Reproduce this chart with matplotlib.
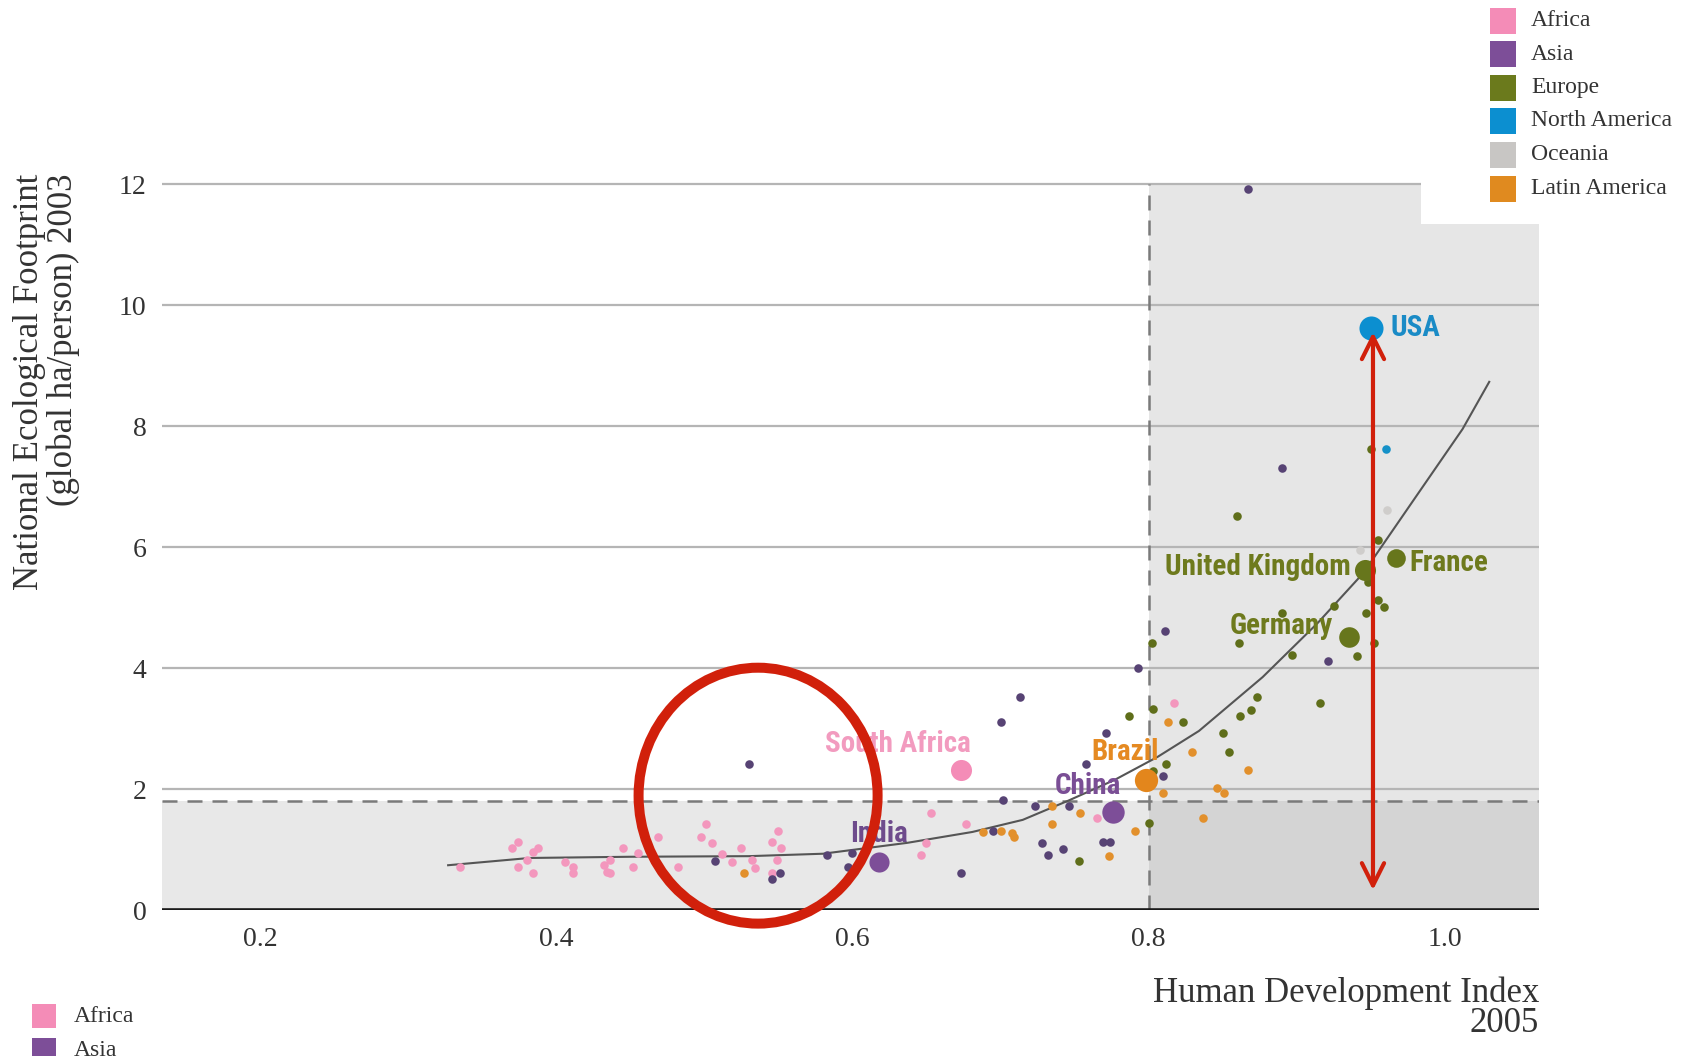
import matplotlib
matplotlib.use("Agg")
import matplotlib.pyplot as plt
from matplotlib.patches import Rectangle, Ellipse
from matplotlib import font_manager

# --- data ---------------------------------------------------------------
regions = ["Africa", "Asia", "Europe", "North America", "Oceania", "Latin America"]

africa_hdi = [0.335, 0.370, 0.374, 0.374, 0.380, 0.384, 0.384, 0.388, 0.406, 0.411,
              0.411, 0.432, 0.434, 0.436, 0.436, 0.445, 0.452, 0.455, 0.469, 0.482,
              0.498, 0.501, 0.505, 0.512, 0.519, 0.525, 0.532, 0.534, 0.550, 0.546,
              0.552, 0.549, 0.546, 0.646, 0.650, 0.653, 0.677, 0.817, 0.765]
africa_fp = [0.71, 1.02, 1.12, 0.71, 0.83, 0.61, 0.96, 1.02, 0.79, 0.71,
             0.61, 0.74, 0.63, 0.61, 0.83, 1.02, 0.71, 0.94, 1.21, 0.71,
             1.21, 1.42, 1.11, 0.93, 0.79, 1.02, 0.83, 0.69, 1.31, 1.12,
             1.02, 0.83, 0.61, 0.91, 1.10, 1.60, 1.42, 3.42, 1.52]

asia_hdi = [0.507, 0.530, 0.551, 0.546, 0.583, 0.597, 0.600, 0.673, 0.702, 0.700,
            0.713, 0.723, 0.728, 0.732, 0.742, 0.695, 0.793, 0.771, 0.810, 0.758,
            0.746, 0.769, 0.774, 0.811, 0.890, 0.921, 0.867]
asia_fp = [0.81, 2.41, 0.61, 0.51, 0.91, 0.71, 0.94, 0.61, 1.82, 3.11,
           3.52, 1.72, 1.11, 0.91, 1.01, 1.31, 4.00, 2.93, 2.21, 2.41,
           1.72, 1.12, 1.12, 4.61, 7.31, 4.12, 11.91]

europe_hdi = [0.802, 0.787, 0.803, 0.823, 0.803, 0.812, 0.800, 0.753, 0.950, 0.860,
              0.955, 0.948, 0.955, 0.959, 0.947, 0.925, 0.890, 0.952, 0.941, 0.897,
              0.861, 0.873, 0.869, 0.862, 0.916, 0.850, 0.854]
europe_fp = [4.41, 3.21, 3.32, 3.11, 2.30, 2.41, 1.44, 0.81, 7.62, 6.51,
             6.12, 5.42, 5.12, 5.01, 4.91, 5.02, 4.91, 4.41, 4.20, 4.21,
             4.41, 3.52, 3.31, 3.21, 3.42, 2.93, 2.61]

namerica_hdi = [0.960]
namerica_fp = [7.62]

oceania_hdi = [0.961, 0.943]
oceania_fp = [6.61, 5.95]

latam_hdi = [0.527, 0.688, 0.700, 0.708, 0.709, 0.735, 0.735, 0.813, 0.829, 0.810,
             0.754, 0.791, 0.773, 0.867, 0.837, 0.846, 0.851]
latam_fp = [0.61, 1.29, 1.31, 1.27, 1.21, 1.72, 1.42, 3.11, 2.61, 1.93,
            1.60, 1.31, 0.89, 2.31, 1.52, 2.02, 1.93]

countries = ["USA", "United Kingdom", "France", "Germany", "Brazil", "China", "India", "South Africa"]
country_hdi = [0.950, 0.946, 0.967, 0.935, 0.798, 0.776, 0.618, 0.673]
country_fp = [9.62, 5.62, 5.82, 4.51, 2.15, 1.62, 0.80, 2.31]
country_region = ["North America", "Europe", "Europe", "Europe", "Latin America", "Asia", "Asia", "Africa"]

trend_hdi = [0.327, 0.382, 0.450, 0.530, 0.580, 0.637, 0.681, 0.715, 0.746, 0.777,
             0.806, 0.834, 0.877, 0.914, 0.945, 0.981, 1.012, 1.030]
trend_fp = [0.74, 0.86, 0.88, 0.89, 0.93, 1.11, 1.29, 1.49, 1.81, 2.15,
            2.53, 2.96, 3.85, 4.74, 5.57, 6.85, 7.95, 8.73]

hdi_threshold = 0.8
fp_threshold = 1.8

xticks = [0.2, 0.4, 0.6, 0.8, 1.0]
xtick_labels = ["0.2", "0.4", "0.6", "0.8", "1.0"]
yticks = [0, 2, 4, 6, 8, 10, 12]

# --- styles ---------------------------------------------------------------
legend_colors = {"Africa": "#f48cb7", "Asia": "#7d4e98", "Europe": "#6b7a1c",
                 "North America": "#0c8fd0", "Oceania": "#c8c6c4", "Latin America": "#e08a1f"}
dot_colors = {"Africa": "#f397bd", "Asia": "#574374", "Europe": "#5f6e1a",
              "North America": "#1591c8", "Oceania": "#cfcdcb", "Latin America": "#e2902c"}
big_colors = {"Africa": "#f48cb7", "Asia": "#7d4e98", "Europe": "#67761c",
              "North America": "#0c8fd0", "Latin America": "#e3861c"}
text_colors = {"USA": "#1a8bc6", "United Kingdom": "#6e7a1d", "France": "#6e7a1d",
               "Germany": "#6e7a1d", "Brazil": "#e58a22", "China": "#7a4e95",
               "India": "#6e4b8c", "South Africa": "#f29bbf"}
big_sizes = {"USA": 300, "United Kingdom": 230, "France": 180, "Germany": 220,
             "Brazil": 280, "China": 260, "India": 210, "South Africa": 230}
# (dx, dy in points, horizontal alignment)
label_pos = {"USA": (14, 0, "left"), "United Kingdom": (-10, 2, "right"),
             "France": (10, -4, "left"), "Germany": (-11, 8, "right"),
             "Brazil": (-15, 20, "center"), "China": (-18, 19, "center"),
             "India": (0, 20, "center"), "South Africa": (-45, 19, "center")}
RED = "#d1200b"

names = {f.name for f in font_manager.fontManager.ttflist}
label_font = dict(family="DejaVu Sans", stretch="condensed", weight="bold")
for fam in ["Liberation Sans Narrow", "Roboto Condensed", "Roboto"]:
    if fam in names:
        label_font = dict(family=fam, weight="bold")
        break
serif = "Liberation Serif"

W, H = 1697, 1056
fig = plt.figure(figsize=(W / 100, H / 100), dpi=100)
ax = fig.add_axes([162 / W, 146 / H, (1539 - 162) / W, (910 - 181.6) / H])
xmin, xmax = 0.1338, 1.0636
ymin, ymax = 0, 12.04
ax.set_xlim(xmin, xmax)
ax.set_ylim(ymin, ymax)
for s in ax.spines.values():
    s.set_visible(False)

# shaded quadrants
ax.add_patch(Rectangle((xmin, 0), hdi_threshold - xmin, fp_threshold, color="#e8e8e8", lw=0, zorder=0))
ax.add_patch(Rectangle((hdi_threshold, fp_threshold), xmax - hdi_threshold, 12 - fp_threshold,
                       color="#e6e6e6", lw=0, zorder=0))
ax.add_patch(Rectangle((hdi_threshold, 0), xmax - hdi_threshold, fp_threshold, color="#d4d4d4", lw=0, zorder=0))

ax.set_yticks(yticks)
ax.set_xticks(xticks)
ax.set_xticklabels(xtick_labels)
ax.yaxis.grid(True, color="#b5b5b5", lw=1.6)
ax.set_axisbelow(True)
ax.tick_params(length=0, labelsize=20, labelcolor="#333333")
ax.tick_params(axis="x", pad=12)
ax.tick_params(axis="y", pad=11)
for t in ax.get_xticklabels() + ax.get_yticklabels():
    t.set_family(serif)
ax.axhline(0, color="#1a1a1a", lw=2.6, zorder=2)

ax.axvline(hdi_threshold, ymax=12 / ymax, color="#7a7a7a", lw=1.8, ls=(0, (6, 4)), zorder=1.5)
ax.axhline(fp_threshold, color="#7a7a7a", lw=1.8, ls=(0, (6, 4)), zorder=1.5)

ax.plot(trend_hdi, trend_fp, color="#555555", lw=1.5, zorder=3, solid_joinstyle="round")

series = {"Africa": (africa_hdi, africa_fp), "Asia": (asia_hdi, asia_fp),
          "Europe": (europe_hdi, europe_fp), "North America": (namerica_hdi, namerica_fp),
          "Oceania": (oceania_hdi, oceania_fp), "Latin America": (latam_hdi, latam_fp)}
for reg, (hx, fy) in series.items():
    ax.scatter(hx, fy, s=38, color=dot_colors[reg], lw=0, zorder=4)

for name, hx, fy, reg in zip(countries, country_hdi, country_fp, country_region):
    ax.scatter([hx], [fy], s=big_sizes[name], color=big_colors[reg], lw=0, zorder=4.5)
    dx, dy, ha = label_pos[name]
    ax.annotate(name, (hx, fy), xytext=(dx, dy), textcoords="offset points",
                ha=ha, va="center", fontsize=21, color=text_colors[name], zorder=5, **label_font)

# red annotations
ax.add_patch(Ellipse((0.5363, 1.89), 0.1614, 4.23, fill=False, ec=RED, lw=7.2, zorder=6, clip_on=False))
ax.annotate("", xy=(0.9515, 9.55), xytext=(0.9515, 0.33),
            arrowprops=dict(arrowstyle="<->,head_length=0.8,head_width=0.4", color=RED, lw=3,
                            mutation_scale=20, shrinkA=0, shrinkB=0), zorder=6)

# axis titles
fig.text(1539 / W, 1 - 993 / H, "Human Development Index", ha="right", va="center",
         fontsize=25, family=serif, color="#333333")
fig.text(1539 / W, 1 - 1023 / H, "2005", ha="right", va="center",
         fontsize=25, family=serif, color="#333333")
fig.text(30 / W, 1 - 174 / H, "National Ecological Footprint", rotation=90, ha="center", va="top",
         fontsize=25, family=serif, color="#333333")
fig.text(63 / W, 1 - 174 / H, "(global ha/person) 2003", rotation=90, ha="center", va="top",
         fontsize=25, family=serif, color="#333333")

# legend, top right, on a white box
fig.add_artist(Rectangle((1421 / W, 1 - 224 / H), (W - 1421) / W, 224 / H,
                         transform=fig.transFigure, color="white", lw=0, zorder=5))
row_y = [20.6, 54, 88, 121, 155, 189]
for reg, yy in zip(regions, row_y):
    fig.add_artist(Rectangle((1490 / W, 1 - (yy + 13) / H), 26 / W, 26 / H,
                             transform=fig.transFigure, color=legend_colors[reg], lw=0, zorder=6))
    fig.text(1531 / W, 1 - yy / H, reg, ha="left", va="center", fontsize=17,
             family=serif, color="#333333", zorder=7)

# second legend, cut off at the bottom left as in the source picture
for reg, yy in zip(regions[:2], [1016, 1050]):
    fig.add_artist(Rectangle((32 / W, 1 - (yy + 12) / H), 24 / W, 24 / H,
                             transform=fig.transFigure, color=legend_colors[reg], lw=0, zorder=6))
    fig.text(74 / W, 1 - yy / H, reg, ha="left", va="center", fontsize=17,
             family=serif, color="#333333", zorder=7)

fig.savefig("out.png", dpi=100)
